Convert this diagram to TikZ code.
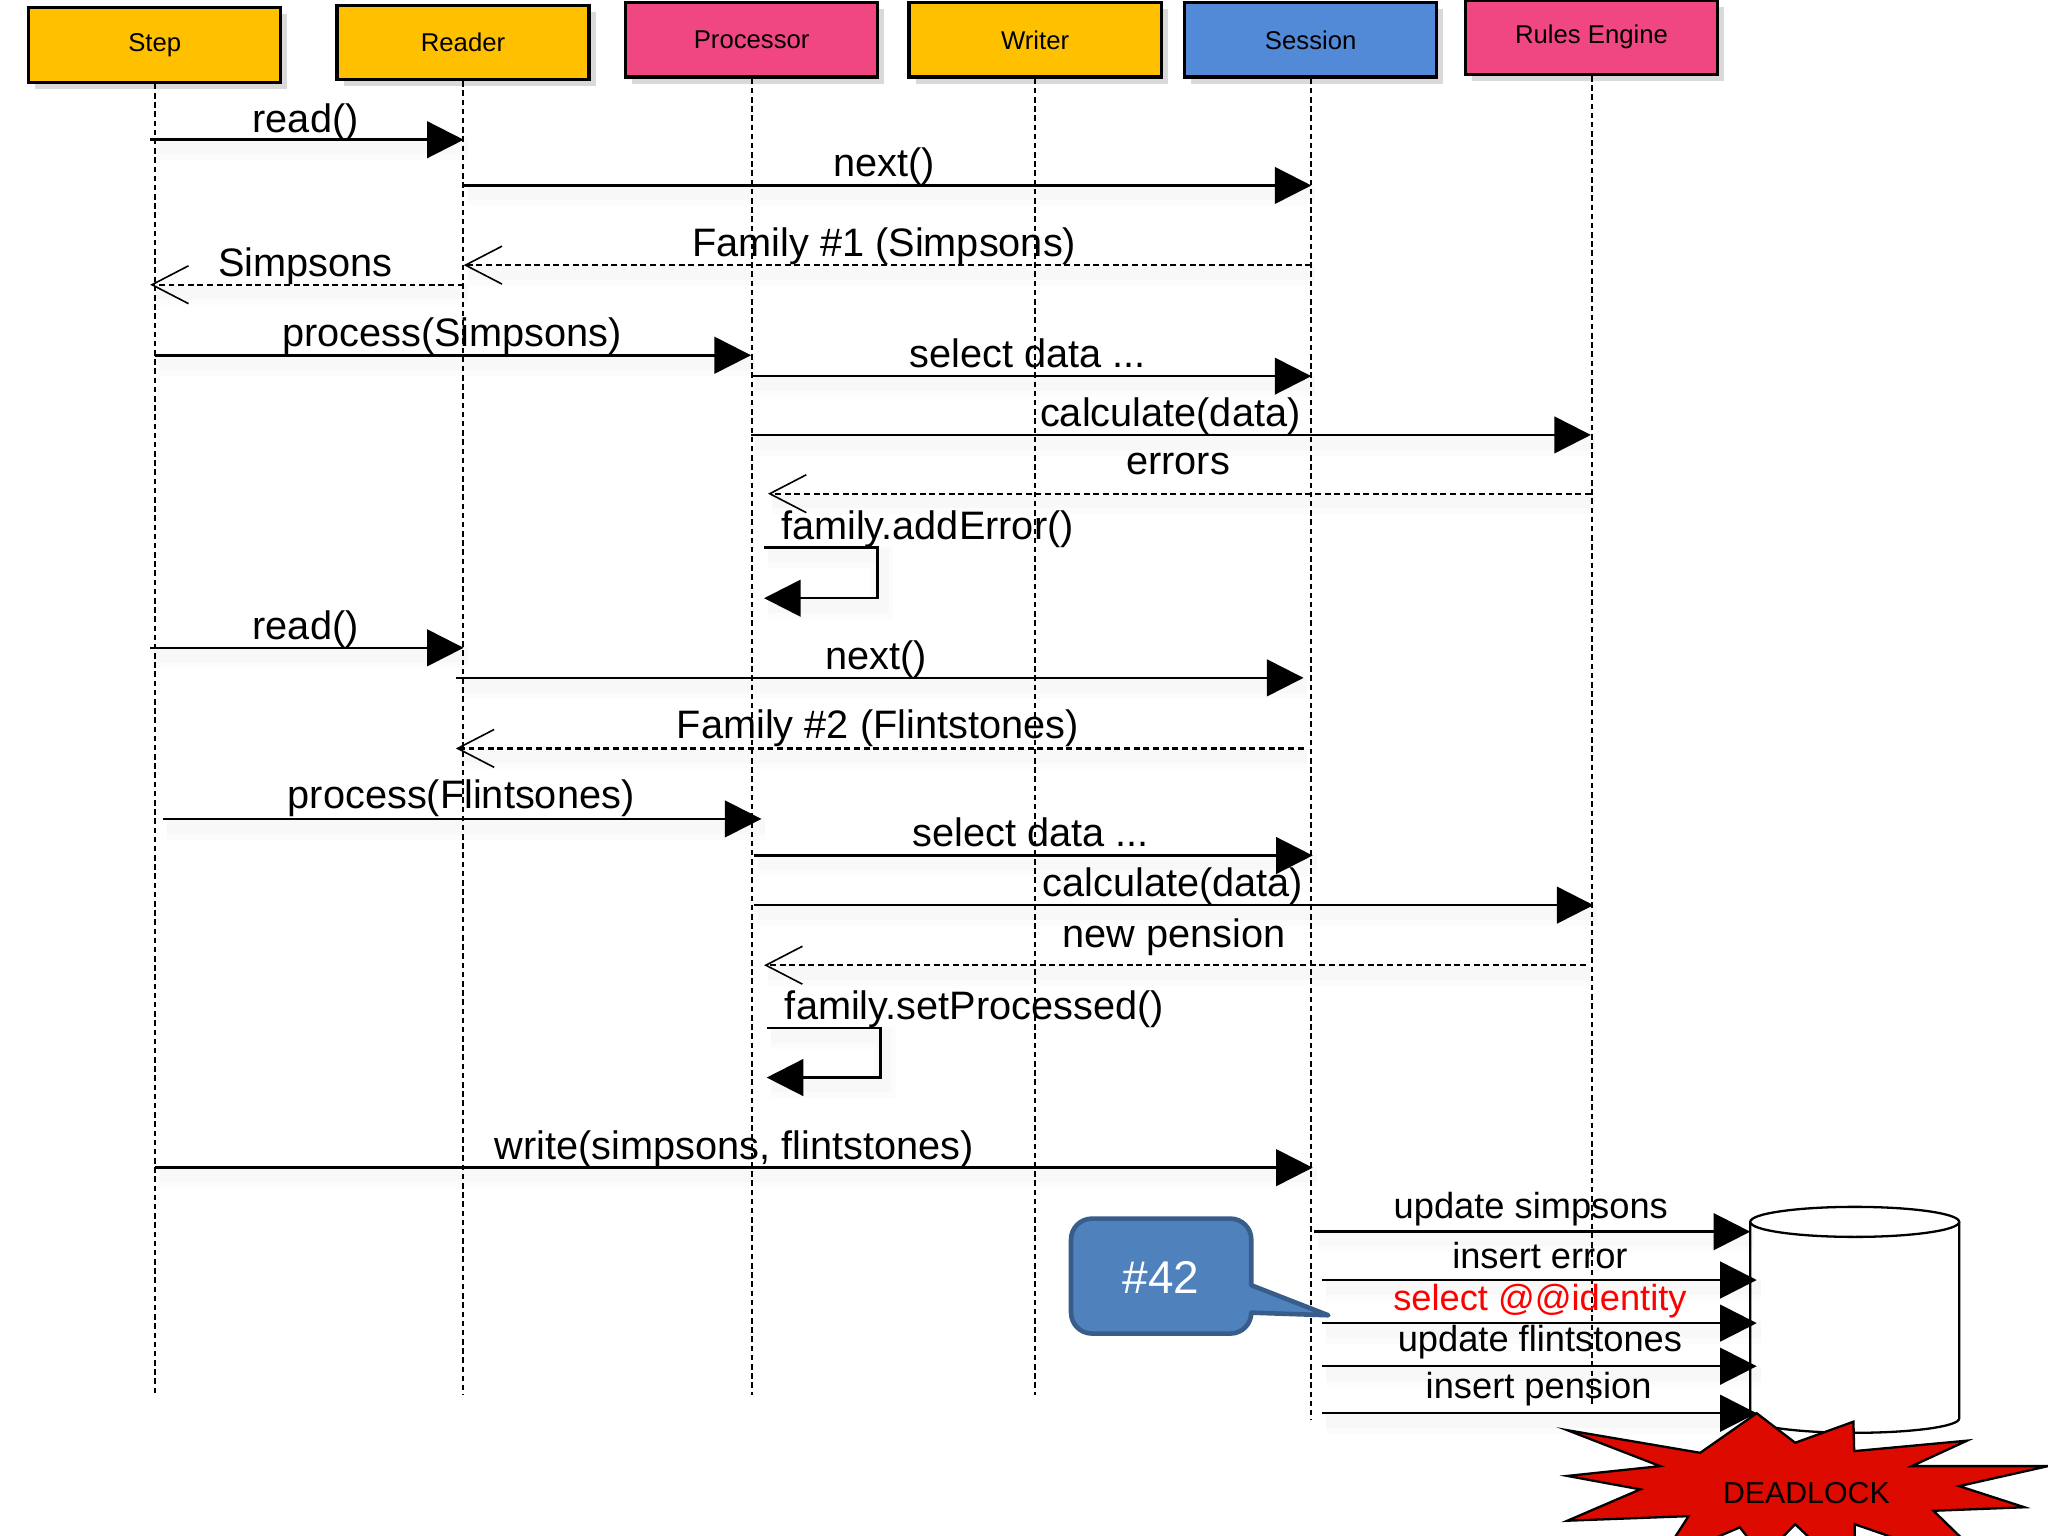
\documentclass[tikz,border=0pt]{standalone}
\usepackage{fontspec}
\setmainfont{Liberation Sans}
\usepackage{tikz}
\usetikzlibrary{arrows.meta,shadows}

\definecolor{headyellow}{HTML}{FFC000}
\definecolor{headpink}{HTML}{F04682}
\definecolor{headblue}{HTML}{538AD8}
\definecolor{noteblue}{HTML}{4F81BD}
\definecolor{noteedge}{HTML}{385D8A}
\definecolor{burstred}{HTML}{DD0A00}

\begin{document}
\begin{tikzpicture}[
    head/.style={draw=black,line width=.7pt,minimum width=1.93cm,minimum height=.57cm,inner sep=0pt,
        font=\fontsize{5.6}{7}\selectfont,drop shadow={shadow xshift=.05cm,shadow yshift=-.05cm,opacity=.3}},
    life/.style={line width=.45pt,dash pattern=on 1.2pt off .8pt},
    softline/.style={preaction={draw=black,draw opacity=.012,line width=5pt,-,transform canvas={shift={(.03,-.07)}}},
        preaction={draw=black,draw opacity=.015,line width=3pt,-,transform canvas={shift={(.03,-.06)}}}},
    call/.style={softline,line width=.55pt,-{Triangle[length=2.8mm,width=2.8mm]}},
    reply/.style={softline,line width=.5pt,dash pattern=on 1.3pt off .8pt,-{Straight Barb[length=2.8mm,width=2.9mm,line width=.35pt]}},
    msgtext/.style={inner sep=0pt,yshift=-.025cm,font=\fontsize{8.65}{10}\selectfont},
    dbtext/.style={msgtext,yshift=.01cm,font=\fontsize{7.9}{9}\selectfont}]
    \useasboundingbox (0,0) rectangle (15.68,-11.76);
    % Lifeline heads
    \node[head,fill=headyellow] (step) at (1.185,-.345) {Step};
    \node[head,fill=headyellow] (reader) at (3.545,-.325) {Reader};
    \node[head,fill=headpink] (processor) at (5.755,-.305) {Processor};
    \node[head,fill=headyellow] (writer) at (7.925,-.305) {Writer};
    \node[head,fill=headblue] (session) at (10.035,-.305) {Session};
    \node[head,fill=headpink] (rules) at (12.185,-.285) {Rules Engine};
    % Lifelines
    \coordinate (stepend) at (1.185,-10.68);
    \coordinate (readerend) at (3.545,-10.68);
    \coordinate (processorend) at (5.755,-10.68);
    \coordinate (writerend) at (7.925,-10.68);
    \coordinate (sessionend) at (10.035,-10.87);
    \coordinate (rulesend) at (12.185,-10.77);
    \draw[life] (step) -- (stepend);
    \draw[life] (reader) -- (readerend);
    \draw[life] (processor) -- (processorend);
    \draw[life] (writer) -- (writerend);
    \draw[life] (session) -- (sessionend);
    \draw[life] (rules) -- (rulesend);
    % Database
    \draw[line width=.5pt,fill=white] (13.40,-9.355) -- (13.40,-10.86) arc (180:360:.80 and .11) -- (15.00,-9.355);
    \draw[line width=.5pt,fill=white] (14.20,-9.355) ellipse (.80 and .115);
    % First family
    \coordinate (a1) at (1.15,-1.07); \coordinate (b1) at (3.55,-1.07);
    \draw[call] (a1) -- (b1);
    \node[msgtext] (t1) at (2.34,-.91) {read()};
    \coordinate (a2) at (3.55,-1.42); \coordinate (b2) at (10.04,-1.42);
    \draw[call] (a2) -- (b2);
    \node[msgtext] (t2) at (6.77,-1.25) {next()};
    \coordinate (a3) at (10.04,-2.03); \coordinate (b3) at (3.55,-2.03);
    \draw[reply] (a3) -- (b3);
    \node[msgtext] (t3) at (6.77,-1.86) {Family \#1 (Simpsons)};
    \coordinate (a4) at (3.55,-2.18); \coordinate (b4) at (1.15,-2.18);
    \draw[reply] (a4) -- (b4);
    \node[msgtext] (t4) at (2.34,-2.01) {Simpsons};
    \coordinate (a5) at (1.19,-2.72); \coordinate (b5) at (5.75,-2.72);
    \draw[call] (a5) -- (b5);
    \node[msgtext] (t5) at (3.46,-2.55) {process(Simpsons)};
    \coordinate (a6) at (5.75,-2.88); \coordinate (b6) at (10.04,-2.88);
    \draw[call] (a6) -- (b6);
    \node[msgtext] (t6) at (7.87,-2.68) {select data ...};
    \coordinate (a7) at (5.75,-3.33); \coordinate (b7) at (12.18,-3.33);
    \draw[call] (a7) -- (b7);
    \node[msgtext] (t7) at (8.96,-3.16) {calculate(data)};
    \coordinate (a8) at (12.18,-3.78); \coordinate (b8) at (5.88,-3.78);
    \draw[reply] (a8) -- (b8);
    \node[msgtext] (t8) at (9.02,-3.53) {errors};
    \coordinate (a9) at (5.85,-4.19); \coordinate (c9) at (6.72,-4.19);
    \coordinate (d9) at (6.72,-4.58); \coordinate (b9) at (5.85,-4.58);
    \draw[call] (a9) -- (c9) -- (d9) -- (b9);
    \node[msgtext] (t9) at (7.10,-4.03) {family.addError()};
    % Second family
    \coordinate (a10) at (1.15,-4.96); \coordinate (b10) at (3.55,-4.96);
    \draw[call] (a10) -- (b10);
    \node[msgtext] (t10) at (2.34,-4.79) {read()};
    \coordinate (a11) at (3.49,-5.19); \coordinate (b11) at (9.98,-5.19);
    \draw[call] (a11) -- (b11);
    \node[msgtext] (t11) at (6.71,-5.02) {next()};
    \coordinate (a12) at (9.98,-5.73); \coordinate (b12) at (3.49,-5.73);
    \draw[reply] (a12) -- (b12);
    \node[msgtext] (t12) at (6.72,-5.55) {Family \#2 (Flintstones)};
    \coordinate (a13) at (1.25,-6.27); \coordinate (b13) at (5.83,-6.27);
    \draw[call] (a13) -- (b13);
    \node[msgtext] (t13) at (3.53,-6.09) {process(Flintsones)};
    \coordinate (a14) at (5.77,-6.55); \coordinate (b14) at (10.05,-6.55);
    \draw[call] (a14) -- (b14);
    \node[msgtext] (t14) at (7.89,-6.35) {select data ...};
    \coordinate (a15) at (5.77,-6.93); \coordinate (b15) at (12.20,-6.93);
    \draw[call] (a15) -- (b15);
    \node[msgtext] (t15) at (8.98,-6.76) {calculate(data)};
    \coordinate (a16) at (12.14,-7.39); \coordinate (b16) at (5.85,-7.39);
    \draw[reply] (a16) -- (b16);
    \node[msgtext] (t16) at (8.99,-7.15) {new pension};
    \coordinate (a17) at (5.87,-7.87); \coordinate (c17) at (6.74,-7.87);
    \coordinate (d17) at (6.74,-8.25); \coordinate (b17) at (5.87,-8.25);
    \draw[call] (a17) -- (c17) -- (d17) -- (b17);
    \node[msgtext] (t17) at (7.46,-7.70) {family.setProcessed()};
    % Write out
    \coordinate (a18) at (1.19,-8.94); \coordinate (b18) at (10.05,-8.94);
    \draw[call] (a18) -- (b18);
    \node[msgtext] (t18) at (5.62,-8.77) {write(simpsons, flintstones)};
    \coordinate (a19) at (10.06,-9.43); \coordinate (b19) at (13.40,-9.43);
    \draw[call] (a19) -- (b19);
    \node[dbtext] (t19) at (11.72,-9.24) {update simpsons};
    \coordinate (a20) at (10.12,-9.80); \coordinate (b20) at (13.45,-9.80);
    \draw[call] (a20) -- (b20);
    \node[dbtext] (t20) at (11.79,-9.60) {insert error};
    \coordinate (a21) at (10.12,-10.13); \coordinate (b21) at (13.45,-10.13);
    \draw[call] (a21) -- (b21);
    \node[dbtext,text=red] (t21) at (11.79,-9.95) {select @@identity};
    \coordinate (a22) at (10.12,-10.46); \coordinate (b22) at (13.45,-10.46);
    \draw[call] (a22) -- (b22);
    \node[dbtext] (t22) at (11.79,-10.26) {update flintstones};
    \coordinate (a23) at (10.12,-10.82); \coordinate (b23) at (13.45,-10.82);
    \draw[call] (a23) -- (b23);
    \node[dbtext] (t23) at (11.78,-10.62) {insert pension};
    % Callout
    \filldraw[fill=noteblue,draw=noteedge,line width=1pt,line join=round]
        (10.17,-10.07) -- (9.58,-10.05) [rounded corners=.16cm] -- (9.58,-10.21) -- (8.20,-10.21)
        -- (8.20,-9.33) -- (9.58,-9.33) [sharp corners] -- (9.58,-9.84) -- cycle;
    \node[text=white,inner sep=0pt,font=\fontsize{10}{12}\selectfont] (note) at (8.89,-9.78) {\#42};
    % Burst
    \filldraw[fill=burstred,draw=black,line width=.5pt,line join=miter]
        (13.45,-10.82) -- (13.744,-11.046) -- (14.19,-10.885) -- (14.196,-11.11) -- (15.06,-11.03)
        -- (14.637,-11.225) -- (15.68,-11.225) -- (15.00,-11.378) -- (15.50,-11.54) -- (14.803,-11.567)
        -- (15.30,-12.05) -- (14.20,-11.67) -- (14.20,-12.10) -- (13.744,-11.67) -- (13.50,-11.92)
        -- (13.32,-11.694) -- (12.70,-11.96) -- (12.928,-11.608) -- (12.00,-11.643) -- (12.558,-11.403)
        -- (12.00,-11.30) -- (12.71,-11.225) -- (12.00,-10.95) -- (13.017,-11.123) -- cycle;
    \node[inner sep=0pt,font=\fontsize{6.6}{8}\selectfont] (deadlock) at (13.83,-11.43) {DEADLOCK};
\end{tikzpicture}
\end{document}
